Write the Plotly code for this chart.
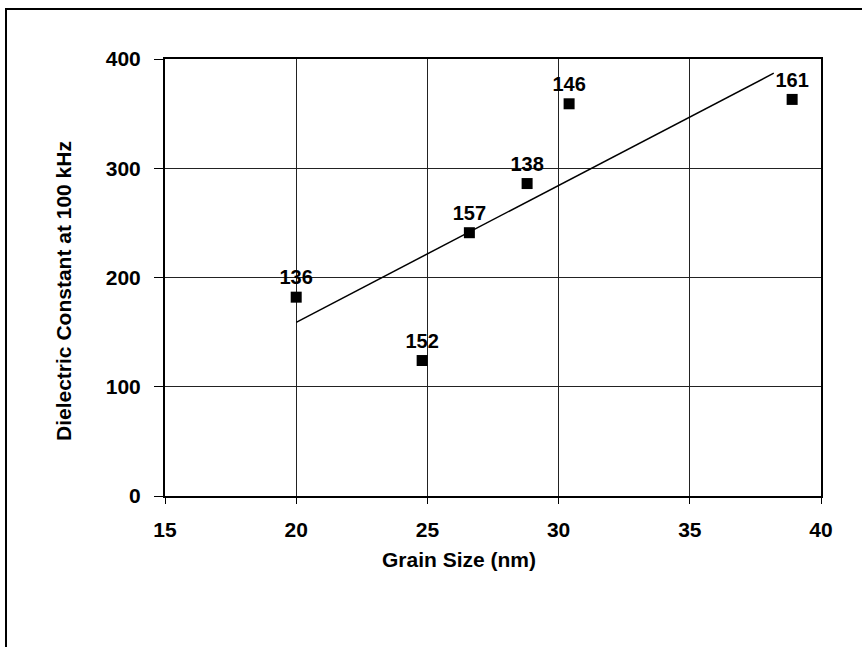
import plotly.graph_objects as go

# Data
grain_size = [20.0, 24.8, 26.6, 28.8, 30.4, 38.9]
dielectric = [182, 124, 241, 286, 359, 363]
point_labels = ["136", "152", "157", "138", "146", "161"]

trend_x = [20.0, 38.2]
trend_y = [159, 387]

x_ticks = [15, 20, 25, 30, 35, 40]
y_ticks = [0, 100, 200, 300, 400]

FONT = "Liberation Sans, Arial, sans-serif"

fig = go.Figure()
fig.add_trace(go.Scatter(
    x=trend_x, y=trend_y, mode="lines",
    line=dict(color="black", width=1.5), showlegend=False, hoverinfo="skip"))
fig.add_trace(go.Scatter(
    x=grain_size, y=dielectric, mode="markers+text",
    marker=dict(symbol="square", size=11, color="black"),
    text=point_labels, textposition="top center",
    textfont=dict(family=FONT, size=20, color="black", weight="bold"),
    showlegend=False))

W, H = 862, 647
L, R, T, B = 165, 41, 59, 151
pw, ph = W - L - R, H - T - B

def px_to_paper_x(px):
    return (px - L) / pw

def px_to_paper_y(py):
    return (H - B - py) / ph

fig.update_layout(
    width=W, height=H,
    margin=dict(l=L, r=R, t=T, b=B, pad=0),
    paper_bgcolor="white", plot_bgcolor="white",
    font=dict(family=FONT, color="black"),
    xaxis=dict(range=[15, 40], tickvals=x_ticks, ticktext=[str(v) for v in x_ticks],
               showgrid=True, gridcolor="#222", gridwidth=1,
               showline=True, linecolor="black", linewidth=2, mirror=True,
               ticks="outside", ticklen=6, tickcolor="black", tickwidth=1,
               zeroline=False, ticklabelstandoff=8,
               tickfont=dict(family=FONT, size=21, color="black", weight="bold")),
    yaxis=dict(range=[0, 400], tickvals=y_ticks, ticktext=[str(v) for v in y_ticks],
               showgrid=True, gridcolor="#222", gridwidth=1,
               showline=True, linecolor="black", linewidth=2, mirror=True,
               ticks="outside", ticklen=9, tickcolor="black", tickwidth=1,
               zeroline=False, ticklabelstandoff=9,
               tickfont=dict(family=FONT, size=21, color="black", weight="bold")),
    annotations=[
        dict(text="Grain Size (nm)", xref="paper", yref="paper",
             x=px_to_paper_x(459), y=px_to_paper_y(559),
             xanchor="center", yanchor="middle", showarrow=False,
             font=dict(family=FONT, size=21, color="black", weight="bold")),
        dict(text="Dielectric Constant at 100 kHz", xref="paper", yref="paper",
             x=px_to_paper_x(63), y=px_to_paper_y(291), textangle=-90,
             xanchor="center", yanchor="middle", showarrow=False,
             font=dict(family=FONT, size=21, color="black", weight="bold")),
    ],
    shapes=[
        dict(type="rect", xref="paper", yref="paper",
             x0=px_to_paper_x(6), x1=px_to_paper_x(900),
             y0=px_to_paper_y(700), y1=px_to_paper_y(9),
             line=dict(color="black", width=2), fillcolor="rgba(0,0,0,0)", layer="below"),
    ],
)

fig.write_html("out.html")
